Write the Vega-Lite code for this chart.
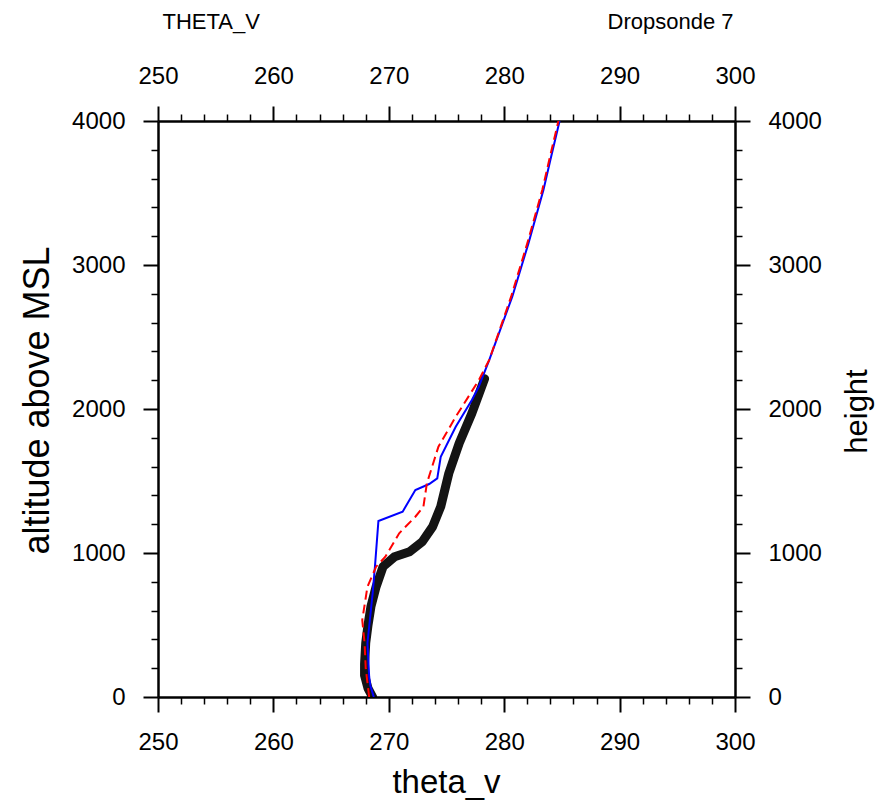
{
  "$schema": "https://vega.github.io/schema/vega-lite/v6.json",
  "width": 577,
  "height": 576,
  "autosize": "none",
  "padding": {"left": 158, "top": 121, "right": 154, "bottom": 104},
  "background": "white",
  "config": {
    "view": {"stroke": null},
    "axis": {
      "grid": false,
      "labelFont": "Liberation Sans",
      "labelFontSize": 24,
      "labelColor": "black",
      "labelFlush": false,
      "labelOverlap": false,
      "labelPadding": 18,
      "tickColor": "black",
      "domainColor": "black",
      "domainWidth": 2.5,
      "titleFont": "Liberation Sans",
      "titleFontWeight": "normal",
      "titleColor": "black"
    }
  },
  "datasets": {
    "obs": [
      {"t": 268.6, "z": 0}, {"t": 268.2, "z": 60}, {"t": 267.9, "z": 150}, {"t": 267.9, "z": 230},
      {"t": 268.0, "z": 375}, {"t": 268.2, "z": 500}, {"t": 268.45, "z": 627}, {"t": 268.9, "z": 766},
      {"t": 269.5, "z": 905}, {"t": 270.5, "z": 974}, {"t": 271.8, "z": 1009}, {"t": 272.9, "z": 1078},
      {"t": 273.8, "z": 1183}, {"t": 274.5, "z": 1322}, {"t": 275.2, "z": 1553}, {"t": 276.1, "z": 1762},
      {"t": 277.2, "z": 1970}, {"t": 278.3, "z": 2210}
    ],
    "blue": [
      {"t": 268.7, "z": 0}, {"t": 268.4, "z": 80}, {"t": 268.3, "z": 141}, {"t": 268.15, "z": 375},
      {"t": 268.6, "z": 720}, {"t": 268.8, "z": 905}, {"t": 269.1, "z": 1222}, {"t": 271.2, "z": 1287},
      {"t": 272.3, "z": 1437}, {"t": 273.5, "z": 1479}, {"t": 274.2, "z": 1518}, {"t": 274.5, "z": 1668},
      {"t": 275.8, "z": 1877}, {"t": 277.2, "z": 2062}, {"t": 277.8, "z": 2155}, {"t": 278.7, "z": 2340},
      {"t": 280.7, "z": 2780}, {"t": 282.1, "z": 3150}, {"t": 283.4, "z": 3521}, {"t": 284.0, "z": 3729},
      {"t": 284.8, "z": 4000}
    ],
    "red": [
      {"t": 268.3, "z": 0}, {"t": 268.0, "z": 200}, {"t": 267.9, "z": 375}, {"t": 267.7, "z": 535},
      {"t": 268.15, "z": 766}, {"t": 268.9, "z": 905}, {"t": 269.7, "z": 974}, {"t": 270.9, "z": 1137},
      {"t": 272.3, "z": 1252}, {"t": 273.0, "z": 1322}, {"t": 273.3, "z": 1484}, {"t": 274.3, "z": 1738},
      {"t": 275.8, "z": 1946}, {"t": 277.8, "z": 2200}, {"t": 278.7, "z": 2340}, {"t": 280.6, "z": 2780},
      {"t": 282.0, "z": 3150}, {"t": 283.3, "z": 3521}, {"t": 283.9, "z": 3729}, {"t": 284.7, "z": 4000}
    ]
  },
  "resolve": {"axis": {"x": "independent", "y": "independent"}},
  "layer": [
    {
      "data": {"name": "obs"},
      "mark": {"type": "line", "color": "black", "strokeWidth": 9, "strokeCap": "round", "strokeJoin": "round", "opacity": 0.92, "clip": true},
      "encoding": {
        "x": {"field": "t", "type": "quantitative", "scale": {"domain": [250, 300], "nice": false, "zero": false},
          "axis": {"orient": "bottom", "values": [250, 260, 270, 280, 290, 300], "tickSize": 15, "tickWidth": 2,
            "title": "theta_v", "titleFontSize": 33, "titleX": 288, "titleY": 95, "titleAlign": "center", "titleBaseline": "alphabetic", "titleAnchor": null}},
        "y": {"field": "z", "type": "quantitative", "scale": {"domain": [0, 4000], "nice": false, "zero": false},
          "axis": {"orient": "left", "values": [0, 1000, 2000, 3000, 4000], "format": "d", "tickSize": 15, "tickWidth": 2,
            "title": "altitude above MSL", "titleFontSize": 36, "titleAngle": 270, "titleX": -110, "titleY": 279, "titleAlign": "center", "titleBaseline": "alphabetic", "titleAnchor": null}},
        "order": {"field": "z", "type": "quantitative"}
      }
    },
    {
      "data": {"name": "blue"},
      "mark": {"type": "line", "color": "#0000ff", "strokeWidth": 2, "clip": true},
      "encoding": {
        "x": {"field": "t", "type": "quantitative",
          "axis": {"orient": "top", "values": [250, 260, 270, 280, 290, 300], "tickSize": 15, "tickWidth": 2,
            "title": "THETA_V", "titleFontSize": 22, "titleX": 4, "titleY": -93, "titleAlign": "left", "titleBaseline": "alphabetic", "titleAnchor": null}},
        "y": {"field": "z", "type": "quantitative",
          "axis": {"orient": "right", "values": [0, 1000, 2000, 3000, 4000], "format": "d", "tickSize": 15, "tickWidth": 2,
            "title": "height", "titleFontSize": 31, "titleAngle": 270, "titleX": 131, "titleY": 290, "titleAlign": "center", "titleBaseline": "alphabetic", "titleAnchor": null}},
        "order": {"field": "z", "type": "quantitative"}
      }
    },
    {
      "data": {"name": "red"},
      "mark": {"type": "line", "color": "#ff0000", "strokeWidth": 2, "strokeDash": [9, 5], "clip": true},
      "encoding": {
        "x": {"field": "t", "type": "quantitative",
          "axis": {"orient": "bottom", "values": [252, 254, 256, 258, 262, 264, 266, 268, 272, 274, 276, 278, 282, 284, 286, 288, 292, 294, 296, 298],
            "labels": false, "domain": false, "tickSize": 7, "tickWidth": 1.5, "title": null}},
        "y": {"field": "z", "type": "quantitative",
          "axis": {"orient": "left", "values": [200, 400, 600, 800, 1200, 1400, 1600, 1800, 2200, 2400, 2600, 2800, 3200, 3400, 3600, 3800],
            "labels": false, "domain": false, "tickSize": 7, "tickWidth": 1.5, "title": null}},
        "order": {"field": "z", "type": "quantitative"}
      }
    },
    {
      "data": {"name": "blue"},
      "mark": {"type": "line", "color": "#0000ff", "strokeWidth": 1, "strokeOpacity": 0, "clip": true},
      "encoding": {
        "x": {"field": "t", "type": "quantitative",
          "axis": {"orient": "top", "values": [252, 254, 256, 258, 262, 264, 266, 268, 272, 274, 276, 278, 282, 284, 286, 288, 292, 294, 296, 298],
            "labels": false, "domain": false, "tickSize": 7, "tickWidth": 1.5,
            "title": "Dropsonde 7", "titleFontSize": 22, "titleX": 575, "titleY": -93, "titleAlign": "right", "titleBaseline": "alphabetic", "titleAnchor": null}},
        "y": {"field": "z", "type": "quantitative",
          "axis": {"orient": "right", "values": [200, 400, 600, 800, 1200, 1400, 1600, 1800, 2200, 2400, 2600, 2800, 3200, 3400, 3600, 3800],
            "labels": false, "domain": false, "tickSize": 7, "tickWidth": 1.5, "title": null}},
        "order": {"field": "z", "type": "quantitative"}
      }
    }
  ]
}
